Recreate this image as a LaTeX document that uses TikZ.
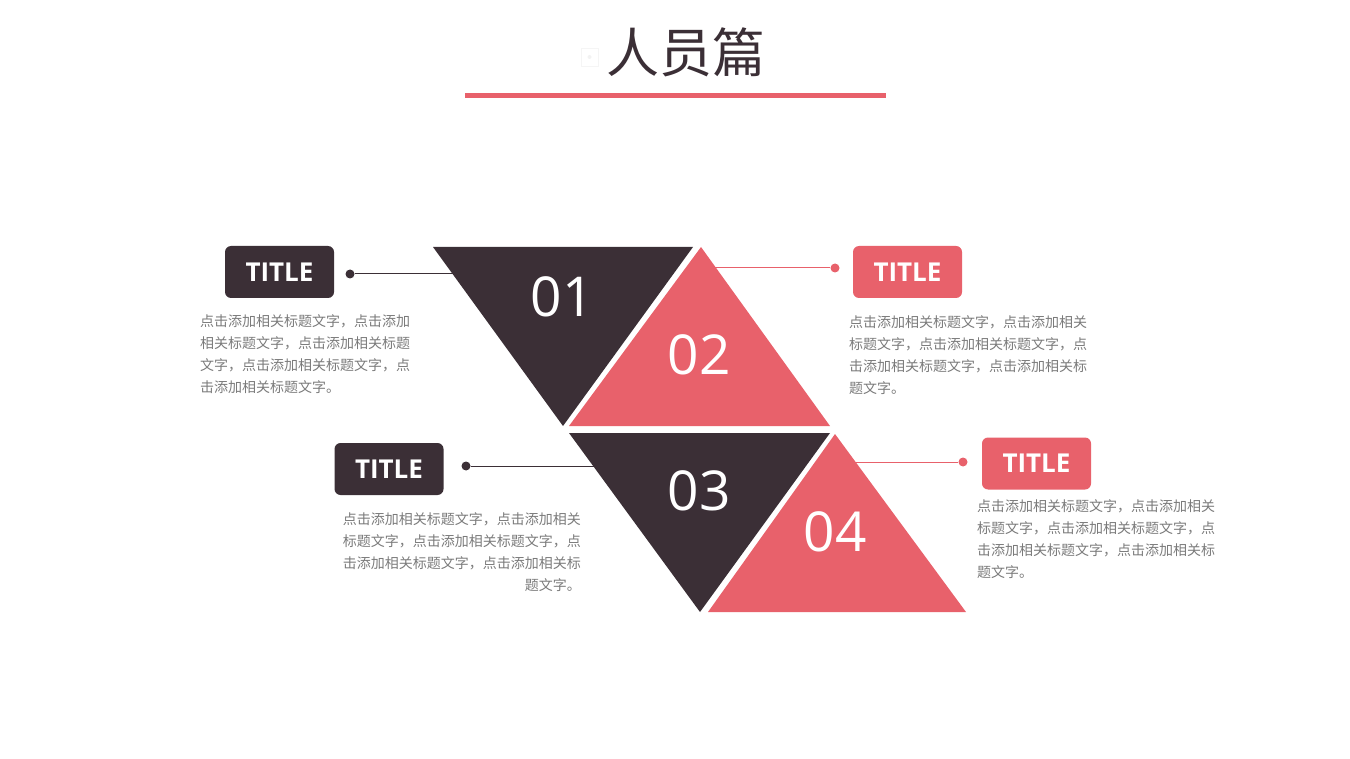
\documentclass[tikz,border=0pt]{standalone}
\usepackage{fontspec}
\setmainfont{Open Sans}
\newfontfamily\cjk{Noto Sans CJK SC}
\usetikzlibrary{positioning}

\definecolor{dark}{HTML}{3B2F36}
\definecolor{rose}{HTML}{E8616B}
\definecolor{note}{HTML}{7A7A7A}

\tikzset{
  tag/.style={rounded corners=6pt, minimum width=109pt, minimum height=52pt, inner sep=0pt, text=white, font=\fontsize{26}{26}\selectfont\bfseries},
  num/.style={text=white, font=\fontsize{55}{55}\selectfont},
  txt/.style={text=note, font=\cjk\fontsize{14}{22}\selectfont, inner sep=0pt},
  dot/.style={circle, inner sep=0pt, minimum size=9pt},
  lead/.style={line width=1pt}
}

\begin{document}
\begin{tikzpicture}[x=1pt,y=-1pt]
\useasboundingbox (0,0) rectangle (1350,759);

% heading
\draw[black!4, line width=0.8pt] (581,48) rectangle (598,66);
\fill[black!5] (589.5,57) circle (2pt);
\node[text=dark, font=\cjk\fontsize{53}{53}\selectfont] (head) at (686,52) {人员篇};
\draw[rose, line width=5pt] (465,96) -- (886,96);

% triangles
\coordinate (a1) at (433,247); \coordinate (b1) at (693,247); \coordinate (c1) at (563,426);
\coordinate (a2) at (701,247); \coordinate (b2) at (569,426); \coordinate (c2) at (830,426);
\coordinate (a3) at (569,433); \coordinate (b3) at (830,433); \coordinate (c3) at (700,612);
\coordinate (a4) at (835,434); \coordinate (b4) at (708,612); \coordinate (c4) at (966,612);

% leaders
\coordinate (e1) at (456,274);
\coordinate (e2) at (712,268);
\coordinate (e3) at (598,466);
\coordinate (e4) at (850,462);
\node[dot, fill=dark] (d1) at (350,274) {};
\node[dot, fill=rose] (d2) at (835,268) {};
\node[dot, fill=dark] (d3) at (466,466) {};
\node[dot, fill=rose] (d4) at (963,462) {};
\draw[lead, dark] (d1) -- (e1);
\draw[lead, rose] (d2) -- (e2);
\draw[lead, dark] (d3) -- (e3);
\draw[lead, rose] (d4) -- (e4);

\fill[dark] (a1) -- (b1) -- (c1) -- cycle;
\fill[rose] (a2) -- (b2) -- (c2) -- cycle;
\fill[dark] (a3) -- (b3) -- (c3) -- cycle;
\fill[rose] (a4) -- (b4) -- (c4) -- cycle;

\node[num] (n1) at (562,297) {01};
\node[num] (n2) at (699,355) {02};
\node[num] (n3) at (699,491) {03};
\node[num] (n4) at (835,532) {04};

% titles
\node[tag, fill=dark] (t1) at (279.5,272) {TITLE};
\node[tag, fill=rose] (t2) at (907.5,272) {TITLE};
\node[tag, fill=dark] (t3) at (389,469) {TITLE};
\node[tag, fill=rose] (t4) at (1036.5,463.5) {TITLE};

% notes
\node[txt, align=left, anchor=north west] (p1) at (200,314) {点击添加相关标题文字，点击添加\\相关标题文字，点击添加相关标题\\文字，点击添加相关标题文字，点\\击添加相关标题文字。};
\node[txt, align=left, anchor=north west] (p2) at (849,315) {点击添加相关标题文字，点击添加相关\\标题文字，点击添加相关标题文字，点\\击添加相关标题文字，点击添加相关标\\题文字。};
\node[txt, align=right, anchor=north east] (p3) at (581,512) {点击添加相关标题文字，点击添加相关\\标题文字，点击添加相关标题文字，点\\击添加相关标题文字，点击添加相关标\\题文字。};
\node[txt, align=left, anchor=north west] (p4) at (977,499) {点击添加相关标题文字，点击添加相关\\标题文字，点击添加相关标题文字，点\\击添加相关标题文字，点击添加相关标\\题文字。};
\end{tikzpicture}
\end{document}
